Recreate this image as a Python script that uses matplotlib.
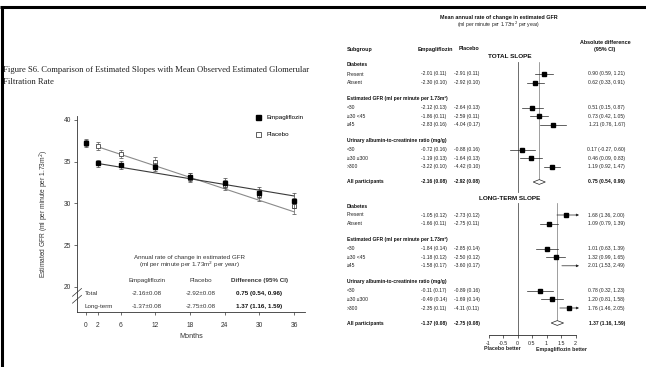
import numpy as np
import matplotlib
matplotlib.use('Agg')
import matplotlib.pyplot as plt
from matplotlib.lines import Line2D
from matplotlib.patches import Polygon

plt.rcParams['font.family'] = ['Liberation Sans', 'DejaVu Sans']

# ---- left panel: observed mean eGFR by visit ----
months = [0, 2, 6, 12, 18, 24, 30, 36]
empa_gfr = [37.2, 34.8, 34.6, 34.4, 33.2, 32.5, 31.3, 30.3]
empa_err = [0.4, 0.45, 0.45, 0.5, 0.5, 0.6, 0.7, 0.9]
placebo_gfr = [37.3, 36.9, 35.9, 35.0, 33.1, 32.2, 31.0, 29.7]
placebo_err = [0.4, 0.45, 0.5, 0.55, 0.55, 0.6, 0.75, 1.0]

# estimated long-term slope lines
slope_months = [2, 36]
empa_slope = [34.8, 30.9]
placebo_slope = [36.8, 29.0]

month_ticks = [0, 2, 6, 12, 18, 24, 30, 36]
gfr_ticks = [20, 25, 30, 35, 40]

table_cols = ['Empagliflozin', 'Placebo', 'Difference (95% CI)']
table_rows = ['Total', 'Long-term']
table_empa = ['-2.16±0.08', '-1.37±0.08']
table_placebo = ['-2.92±0.08', '-2.75±0.08']
table_diff = ['0.75 (0.54, 0.96)', '1.37 (1.16, 1.59)']

# ---- right panel: subgroup forest plot ----
group_names = ['Diabetes',
               'Estimated GFR (ml per minute per 1.73m²)',
               'Urinary albumin-to-creatinine ratio (mg/g)']
subgroup_names = [['Present', 'Absent'],
                  ['<30', '≥30 <45', '≥45'],
                  ['<30', '≥30 ≤300', '>300']]

total_empa = [-2.01, -2.30, -2.12, -1.86, -2.83, -0.72, -1.19, -3.22, -2.16]
total_empa_se = [0.11, 0.10, 0.13, 0.11, 0.16, 0.16, 0.13, 0.10, 0.08]
total_placebo = [-2.91, -2.92, -2.64, -2.59, -4.04, -0.88, -1.64, -4.42, -2.92]
total_placebo_se = [0.11, 0.10, 0.13, 0.11, 0.17, 0.16, 0.13, 0.10, 0.08]
total_diff = [0.90, 0.62, 0.51, 0.73, 1.21, 0.17, 0.46, 1.19, 0.75]
total_lo = [0.59, 0.33, 0.15, 0.42, 0.76, -0.27, 0.09, 0.92, 0.54]
total_hi = [1.21, 0.91, 0.87, 1.05, 1.67, 0.60, 0.83, 1.47, 0.96]

lt_empa = [-1.05, -1.66, -1.84, -1.18, -1.58, -0.11, -0.49, -2.35, -1.37]
lt_empa_se = [0.12, 0.11, 0.14, 0.12, 0.17, 0.17, 0.14, 0.11, 0.08]
lt_placebo = [-2.73, -2.75, -2.85, -2.50, -3.60, -0.89, -1.69, -4.11, -2.75]
lt_placebo_se = [0.12, 0.11, 0.14, 0.12, 0.17, 0.16, 0.14, 0.11, 0.08]
lt_diff = [1.68, 1.09, 1.01, 1.32, 2.01, 0.78, 1.20, 1.76, 1.37]
lt_lo = [1.36, 0.79, 0.63, 0.99, 1.53, 0.32, 0.81, 1.46, 1.16]
lt_hi = [2.00, 1.39, 1.39, 1.65, 2.49, 1.23, 1.58, 2.05, 1.59]

forest_ticks = [-1, -0.5, 0, 0.5, 1, 1.5, 2]
forest_ticklabels = ['-1', '-0.5', '0', '0.5', '1', '1.5', '2']

W, H = 646, 367
fig = plt.figure(figsize=(W / 100, H / 100), dpi=100)

# page overlay in pixel units for free text
page = fig.add_axes([0, 0, 1, 1])
page.set_xlim(0, W)
page.set_ylim(H, 0)
page.axis('off')

page.plot([0, W], [6.5, 6.5], color='black', lw=2.2, solid_capstyle='butt')
page.plot([1.5, 1.5], [5.5, H], color='black', lw=2.2, solid_capstyle='butt')

serif = ['Liberation Serif', 'DejaVu Serif']
page.text(3, 70, 'Figure S6. Comparison of Estimated Slopes with Mean Observed Estimated Glomerular',
          family=serif, fontsize=6.25, va='center', color='#222222')
page.text(3, 82, 'Filtration Rate', family=serif, fontsize=6.25, va='center', color='#222222')

# ---------------- left chart ----------------
def px_box(left, top, right, bottom):
    return [left / W, 1 - bottom / H, (right - left) / W, (bottom - top) / H]

ax = fig.add_axes(px_box(77, 115.8, 305, 312))
ax.set_xlim(-1.55, 37.9)
ax.set_ylim(17, 40.5)
ax.patch.set_visible(False)
for s in ['top', 'right']:
    ax.spines[s].set_visible(False)
for s in ['left', 'bottom']:
    ax.spines[s].set_linewidth(0.6)
    ax.spines[s].set_color('#333333')

ax.plot(slope_months, placebo_slope, color='#8a8a8a', lw=0.8, zorder=2)
ax.plot(slope_months, empa_slope, color='#3a3a3a', lw=0.8, zorder=2)

ax.errorbar(months, placebo_gfr, yerr=placebo_err, fmt='s', ms=3.2, mfc='white',
            mec='#444444', mew=0.6, ecolor='#666666', elinewidth=0.5, capsize=1.2,
            capthick=0.5, zorder=3)
ax.errorbar(months, empa_gfr, yerr=empa_err, fmt='s', ms=3.2, mfc='black',
            mec='black', ecolor='#444444', elinewidth=0.5, capsize=1.2,
            capthick=0.5, zorder=4)

ax.set_xticks(month_ticks)
ax.set_yticks(gfr_ticks)
ax.tick_params(axis='both', labelsize=4.8, length=2, width=0.5, colors='#333333',
               pad=5)
ax.tick_params(axis='y', pad=2)
ax.set_xlabel('Months', fontsize=5.2, color='#333333', labelpad=3)
ax.set_ylabel('Estimated GFR (ml per minute per 1.73m$^2$)', fontsize=4.8,
              color='#333333')
ax.yaxis.set_label_coords(-0.115, 0.5)

# axis break on the y axis
for dy in (0.0, 0.035):
    ax.plot([-0.02, 0.02], [0.045 + dy, 0.085 + dy], transform=ax.transAxes,
            color='#333333', lw=0.5, clip_on=False)

legend_handles = [
    Line2D([], [], marker='s', ls='none', ms=3.6, mfc='black', mec='black'),
    Line2D([], [], marker='s', ls='none', ms=3.6, mfc='white', mec='#444444', mew=0.6),
]
ax.legend(legend_handles, ['Empagliflozin', 'Placebo'], loc='upper left',
          bbox_to_anchor=(0.76, 1.035), frameon=False, fontsize=4.5,
          handlelength=0.8, handletextpad=0.9, labelspacing=1.9)

# annual rate table inside the chart
tc = '#333333'
ax.text(18, 23.5, 'Annual rate of change in estimated GFR', ha='center', va='center',
        fontsize=4.5, color=tc)
ax.text(18, 22.6, '(ml per minute per 1.73m$^2$ per year)', ha='center', va='center',
        fontsize=4.5, color=tc)
col_x = [10.6, 19.8, 30.0]
for x, name in zip(col_x, table_cols):
    ax.text(x, 20.75, name, ha='center', va='center', fontsize=4.5, color=tc,
            fontweight='bold' if name.startswith('Diff') else 'normal')
for i, row_y in enumerate([19.25, 17.7]):
    ax.text(-0.2, row_y, table_rows[i], ha='left', va='center', fontsize=4.5, color=tc)
    ax.text(col_x[0], row_y, table_empa[i], ha='center', va='center', fontsize=4.5, color=tc)
    ax.text(col_x[1], row_y, table_placebo[i], ha='center', va='center', fontsize=4.5, color=tc)
    ax.text(col_x[2], row_y, table_diff[i], ha='center', va='center', fontsize=4.5,
            color='#111111', fontweight='bold')

# ---------------- right forest plot ----------------
axis_y = 335
fax = fig.add_axes(px_box(482.7, 40, 584.2, axis_y))
fax.set_xlim(-1.2, 2.3)
fax.set_ylim(axis_y, 40)
fax.patch.set_visible(False)
for s in ['top', 'right', 'left']:
    fax.spines[s].set_visible(False)
fax.spines['bottom'].set_bounds(-1, 2)
fax.spines['bottom'].set_linewidth(0.5)
fax.set_yticks([])
fax.set_xticks(forest_ticks)
fax.set_xticklabels(forest_ticklabels)
fax.tick_params(axis='x', labelsize=3.8, length=2, width=0.5, pad=2, colors='#222222')

fs = 3.6
x_sub, x_empa, x_plac, x_diff = 347, 421, 454, 625

page.text(499, 17, 'Mean annual rate of change in estimated GFR', ha='center', va='center',
          fontsize=3.9, fontweight='bold', color='#111111')
page.text(499, 25, '(ml per minute per 1.73m$^2$ per year)', ha='center', va='center',
          fontsize=3.7, color='#222222')
page.text(x_sub, 49, 'Subgroup', ha='left', va='center', fontsize=3.9,
          fontweight='bold', color='#111111')
page.text(418, 49, 'Empagliflozin', ha='left', va='center', fontsize=3.9,
          fontweight='bold', color='#111111')
page.text(459, 49, 'Placebo', ha='left', va='center', fontsize=3.9,
          fontweight='bold', color='#111111')
page.text(605, 42.5, 'Absolute difference', ha='center', va='center', fontsize=3.9,
          fontweight='bold', color='#111111')
page.text(605, 50, '(95% CI)', ha='center', va='center', fontsize=3.9,
          fontweight='bold', color='#111111')


def draw_section(y0, title, e, e_se, p, p_se, est, lo, hi):
    page.text(510, y0, title, ha='center', va='center', fontsize=4.6,
              fontweight='bold', color='#111111')
    y = y0 + 8
    k = 0
    top = y0 + 5
    for g, name in enumerate(group_names):
        if g > 0:
            y += 16
        page.text(x_sub, y, name, ha='left', va='center', fontsize=fs,
                  fontweight='bold', color='#111111')
        y += 9
        for j, sub in enumerate(subgroup_names[g]):
            if j > 0:
                y += 8.6
            page.text(x_sub, y, sub, ha='left', va='center', fontsize=fs, color='#222222')
            page.text(x_empa, y, f'{e[k]:.2f} ({e_se[k]:.2f})', ha='left', va='center',
                      fontsize=fs, color='#222222')
            page.text(x_plac, y, f'{p[k]:.2f} ({p_se[k]:.2f})', ha='left', va='center',
                      fontsize=fs, color='#222222')
            page.text(x_diff, y, f'{est[k]:.2f} ({lo[k]:.2f}, {hi[k]:.2f})', ha='right',
                      va='center', fontsize=fs, color='#222222')
            if hi[k] >= 2:
                fax.annotate('', xy=(2.12, y), xytext=(lo[k], y),
                             arrowprops=dict(arrowstyle='-|>', lw=0.5, color='#222222',
                                             mutation_scale=3.5, shrinkA=0, shrinkB=0))
            else:
                fax.plot([lo[k], hi[k]], [y, y], color='#222222', lw=0.5)
            if est[k] <= 2:
                fax.plot(est[k], y, marker='s', ms=3.2, color='black', ls='none', zorder=4)
            k += 1
    # overall row
    y += 15
    page.text(x_sub, y, 'All participants', ha='left', va='center', fontsize=fs,
              fontweight='bold', color='#111111')
    page.text(x_empa, y, f'{e[k]:.2f} ({e_se[k]:.2f})', ha='left', va='center',
              fontsize=fs, fontweight='bold', color='#111111')
    page.text(x_plac, y, f'{p[k]:.2f} ({p_se[k]:.2f})', ha='left', va='center',
              fontsize=fs, fontweight='bold', color='#111111')
    page.text(x_diff, y, f'{est[k]:.2f} ({lo[k]:.2f}, {hi[k]:.2f})', ha='right',
              va='center', fontsize=fs, fontweight='bold', color='#111111')
    fax.add_patch(Polygon([(lo[k], y), (est[k], y - 2.4), (hi[k], y), (est[k], y + 2.4)],
                          closed=True, facecolor='white', edgecolor='#222222', lw=0.5,
                          zorder=3))
    fax.plot([est[k], est[k]], [top, y - 2.4], color='#777777', lw=0.5, zorder=1)
    return top, y


t_top, t_end = draw_section(57, 'TOTAL SLOPE', total_empa, total_empa_se, total_placebo,
                            total_placebo_se, total_diff, total_lo, total_hi)
l_top, l_end = draw_section(198, 'LONG-TERM SLOPE', lt_empa, lt_empa_se, lt_placebo,
                            lt_placebo_se, lt_diff, lt_lo, lt_hi)
fax.plot([0, 0], [t_top, t_end + 10], color='#555555', lw=0.6, zorder=1)
fax.plot([0, 0], [l_top, axis_y], color='#555555', lw=0.6, zorder=1)

page.text(502, 349, 'Placebo better', ha='center', va='center', fontsize=3.8,
          fontweight='bold', color='#222222')
page.text(561, 349, 'Empagliflozin better', ha='center', va='center', fontsize=3.8,
          fontweight='bold', color='#222222')

fig.savefig('out.png', dpi=100)
